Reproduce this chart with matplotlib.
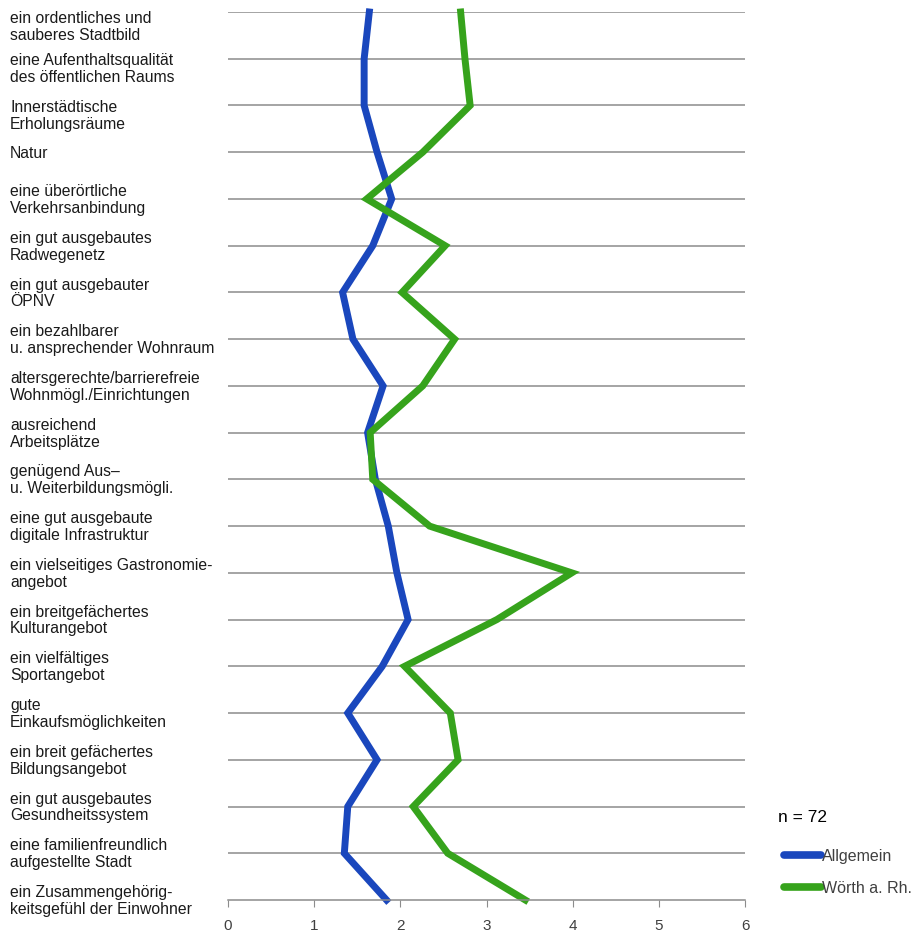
import matplotlib.pyplot as plt
from matplotlib.transforms import blended_transform_factory

categories = [
    "ein ordentliches und\nsauberes Stadtbild",
    "eine Aufenthaltsqualität\ndes öffentlichen Raums",
    "Innerstädtische\nErholungsräume",
    "Natur",
    "eine überörtliche\nVerkehrsanbindung",
    "ein gut ausgebautes\nRadwegenetz",
    "ein gut ausgebauter\nÖPNV",
    "ein bezahlbarer\nu. ansprechender Wohnraum",
    "altersgerechte/barrierefreie\nWohnmögl./Einrichtungen",
    "ausreichend\nArbeitsplätze",
    "genügend Aus–\nu. Weiterbildungsmögli.",
    "eine gut ausgebaute\ndigitale Infrastruktur",
    "ein vielseitiges Gastronomie-\nangebot",
    "ein breitgefächertes\nKulturangebot",
    "ein vielfältiges\nSportangebot",
    "gute\nEinkaufsmöglichkeiten",
    "ein breit gefächertes\nBildungsangebot",
    "ein gut ausgebautes\nGesundheitssystem",
    "eine familienfreundlich\naufgestellte Stadt",
    "ein Zusammengehörig-\nkeitsgefühl der Einwohner",
]

allgemein = [1.64, 1.58, 1.58, 1.73, 1.90, 1.68, 1.33, 1.45, 1.80, 1.62,
             1.71, 1.86, 1.96, 2.09, 1.79, 1.39, 1.73, 1.39, 1.35, 1.84]
woerth = [2.70, 2.75, 2.81, 2.26, 1.61, 2.52, 2.02, 2.63, 2.26, 1.65,
          1.68, 2.34, 3.99, 3.12, 2.05, 2.58, 2.67, 2.15, 2.55, 3.45]

x_ticks = [0, 1, 2, 3, 4, 5, 6]

plt.rcParams['font.family'] = ['Liberation Sans', 'DejaVu Sans']

fig = plt.figure(figsize=(9.22, 9.37), dpi=100)
ax = fig.add_axes([228/922, 1 - 901/937, (745 - 228)/922, (901 - 13)/937])

pos = list(range(len(categories)))
ax.plot(allgemein, pos, color='#1a47bd', lw=5, label='Allgemein', solid_joinstyle='miter', clip_on=False)
ax.plot(woerth, pos, color='#36a31c', lw=5, label='Wörth a. Rh.', solid_joinstyle='miter', clip_on=False)

ax.set_xlim(0, 6)
ax.set_ylim(len(categories) - 1, 0)
ax.set_xticks(x_ticks)
ax.set_xticklabels([str(t) for t in x_ticks], fontsize=11, color='#404040')
ax.set_yticks([])
for p in pos[:-1]:
    ax.axhline(p, color='#8c8c8c', lw=1.1, zorder=0)

for s in ['left', 'right', 'top']:
    ax.spines[s].set_visible(False)
ax.spines['bottom'].set_color('#8c8c8c')
ax.spines['bottom'].set_linewidth(1.1)
ax.tick_params(axis='x', direction='out', length=5, color='#8c8c8c', pad=8)

# category labels on the left (top ones sit a bit lower than their gridline)
trans = blended_transform_factory(fig.transFigure, ax.transData)
for i, lab in enumerate(categories):
    y = i
    if i == 0:
        y += 0.3
    elif i in (1, 2):
        y += 0.2
    ax.text(10/922, y, lab, transform=trans, ha='left', va='center',
            fontsize=11.3, color='#1a1a1a', linespacing=1.15)

fig.text(778/922, 1 - 818/937, 'n = 72', fontsize=12.5, va='center', ha='left')
leg = fig.legend(loc='upper left', bbox_to_anchor=(770/922, 1 - 835/937), frameon=False,
                 handlelength=2.3, handletextpad=0.05, labelspacing=1.05, fontsize=11.5,
                 labelcolor='#404040')
for h in leg.get_lines():
    h.set_solid_capstyle('round')
    h.set_linewidth(5.5)

fig.savefig('out.png', dpi=100)
